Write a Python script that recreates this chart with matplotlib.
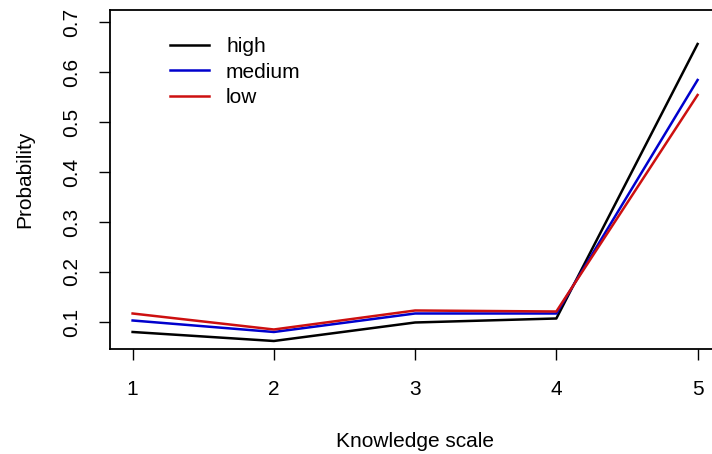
import matplotlib
matplotlib.use('Agg')
import matplotlib.pyplot as plt

plt.rcParams['font.family'] = ['Liberation Sans', 'DejaVu Sans']

knowledge = [1, 2, 3, 4, 5]
high = [0.080, 0.062, 0.099, 0.107, 0.656]
medium = [0.103, 0.080, 0.117, 0.117, 0.584]
low = [0.117, 0.085, 0.123, 0.121, 0.554]
y_ticks = [0.1, 0.2, 0.3, 0.4, 0.5, 0.6, 0.7]

fig = plt.figure(figsize=(7.12, 4.54), dpi=100)
# the right edge of the box is cut off in the original
ax = fig.add_axes([0.1545, 0.2313, 0.857, 0.7467])

ax.plot(knowledge, high, color='black', lw=1.8, label='high')
ax.plot(knowledge, medium, color='#0000cd', lw=1.8, label='medium')
ax.plot(knowledge, low, color='#cd1010', lw=1.8, label='low')

ax.set_xlim(0.84, 5.16)
ax.set_ylim(0.046, 0.724)
ax.set_xticks(knowledge)
ax.set_yticks(y_ticks)
ax.set_yticklabels([f'{v:.1f}' for v in y_ticks], rotation=90, va='center')

for side in ax.spines.values():
    side.set_linewidth(1.3)
ax.tick_params(direction='out', length=8, width=1.0, labelsize=15)
ax.tick_params(axis='x', pad=14)
ax.tick_params(axis='y', pad=13)

ax.set_xlabel('Knowledge scale', fontsize=15, labelpad=24)
ax.set_ylabel('Probability', fontsize=15, labelpad=20)

ax.legend(loc='upper left', bbox_to_anchor=(0.098, 0.92), frameon=False,
          fontsize=15, handlelength=1.9, handletextpad=0.8,
          labelspacing=0.32, borderpad=0, borderaxespad=0)

fig.savefig('out.png', dpi=100)
